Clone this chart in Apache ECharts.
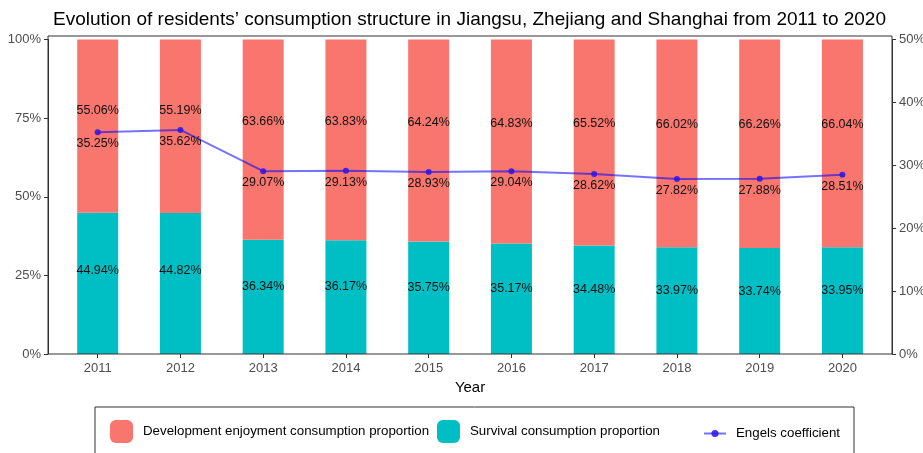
<!DOCTYPE html>
<html>
<head>
<meta charset="utf-8">
<script src="https://cdn.jsdelivr.net/npm/echarts@6/dist/echarts.min.js"></script>
<style>
  html, body { margin: 0; padding: 0; background: #fff; }
  #chart { width: 923px; height: 453px; }
</style>
</head>
<body>
<div id="chart"></div>
<script>
const years = ['2011', '2012', '2013', '2014', '2015', '2016', '2017', '2018', '2019', '2020']
const developShare = [55.06, 55.19, 63.66, 63.83, 64.24, 64.83, 65.52, 66.02, 66.26, 66.04]
const survivalShare = [44.94, 44.82, 36.34, 36.17, 35.75, 35.17, 34.48, 33.97, 33.74, 33.95]
const engels = [35.25, 35.62, 29.07, 29.13, 28.93, 29.04, 28.62, 27.82, 27.88, 28.51]

const FONT = 'Liberation Sans, Arial, sans-serif'
const pxPerPct = 314.5 / 100 // plot height / left axis range

// ggplot puts the label a bit above the middle of each segment
function barItems(values) {
  return values.map(v => ({
    value: v,
    label: { offset: [0, -0.09 * v * pxPerPct] }
  }))
}

const pct = p => p.value.toFixed(2) + '%'

const chart = echarts.init(document.getElementById('chart'))

chart.setOption({
  animation: false,
  textStyle: { fontFamily: FONT },
  title: {
    text: 'Evolution of residents\u2019 consumption structure in Jiangsu, Zhejiang and Shanghai from 2011 to 2020',
    left: 48,
    top: 5,
    textStyle: { fontSize: 19, fontWeight: 'normal', color: '#000', fontFamily: FONT }
  },
  grid: {
    left: 56.3,
    right: 39.2,
    top: 39.5,
    bottom: 99,
    containLabel: false,
    outerBoundsMode: 'none'
  },
  legend: [
    {
      data: ['Development enjoyment consumption proportion'],
      left: 110, top: 420, padding: 0,
      itemWidth: 23, itemHeight: 23,
      textStyle: { fontSize: 13.3, color: '#000', padding: [0, 0, 0, 5] }
    },
    {
      data: ['Survival consumption proportion'],
      left: 437, top: 420, padding: 0,
      itemWidth: 23, itemHeight: 23,
      textStyle: { fontSize: 13.3, color: '#000', padding: [0, 0, 0, 5] }
    },
    {
      data: ['Engels coefficient'],
      left: 703, top: 427, padding: 0,
      itemWidth: 22, itemHeight: 9,
      textStyle: { fontSize: 13.3, color: '#000', padding: [0, 0, 0, 5] }
    }
  ],
  graphic: [
    {
      type: 'rect',
      shape: { x: 48, y: 36, width: 844, height: 318 },
      style: { fill: 'none', stroke: '#333', lineWidth: 1 },
      z: 10, silent: true
    },
    {
      type: 'rect',
      shape: { x: 95, y: 407, width: 759, height: 52 },
      style: { fill: 'none', stroke: '#333', lineWidth: 1 },
      silent: true
    }
  ],
  xAxis: {
    type: 'category',
    data: years,
    name: 'Year',
    nameLocation: 'middle',
    nameGap: 25,
    nameTextStyle: { fontSize: 15, color: '#000' },
    axisLine: { show: false },
    axisTick: { show: true, alignWithLabel: true, length: 4, lineStyle: { color: '#333' } },
    axisLabel: { fontSize: 13, color: '#4d4d4d', margin: 8 }
  },
  yAxis: [
    {
      type: 'value',
      min: 0, max: 100, interval: 25,
      offset: 8.3,
      axisLine: { show: true, lineStyle: { color: '#333' } },
      axisTick: { show: true, length: 4, lineStyle: { color: '#333' } },
      axisLabel: { fontSize: 13, color: '#4d4d4d', margin: 7, formatter: '{value}%' },
      splitLine: { show: false }
    },
    {
      type: 'value',
      min: 0, max: 50, interval: 10,
      offset: 8.3,
      position: 'right',
      axisLine: { show: true, lineStyle: { color: '#333' } },
      axisTick: { show: true, length: 4, lineStyle: { color: '#333' } },
      axisLabel: { fontSize: 13, color: '#4d4d4d', margin: 7, formatter: '{value}%' },
      splitLine: { show: false }
    }
  ],
  series: [
    {
      name: 'Survival consumption proportion',
      type: 'bar',
      stack: 'share',
      barWidth: 41,
      data: barItems(survivalShare),
      itemStyle: { color: '#00BFC4' },
      label: { show: true, position: 'inside', fontSize: 12.5, color: '#111', formatter: pct }
    },
    {
      name: 'Development enjoyment consumption proportion',
      type: 'bar',
      stack: 'share',
      barWidth: 41,
      data: barItems(developShare),
      itemStyle: { color: '#F8766D' },
      label: { show: true, position: 'inside', fontSize: 12.5, color: '#111', formatter: pct }
    },
    {
      name: 'Engels coefficient',
      type: 'line',
      yAxisIndex: 1,
      data: engels,
      symbol: 'circle',
      symbolSize: 6,
      z: 5,
      lineStyle: { color: 'rgba(0,0,255,0.55)', width: 2 },
      itemStyle: { color: 'rgba(40,20,235,0.85)' },
      label: { show: true, position: 'bottom', distance: 2, fontSize: 12.5, color: '#111', formatter: pct }
    }
  ]
})
</script>
</body>
</html>
